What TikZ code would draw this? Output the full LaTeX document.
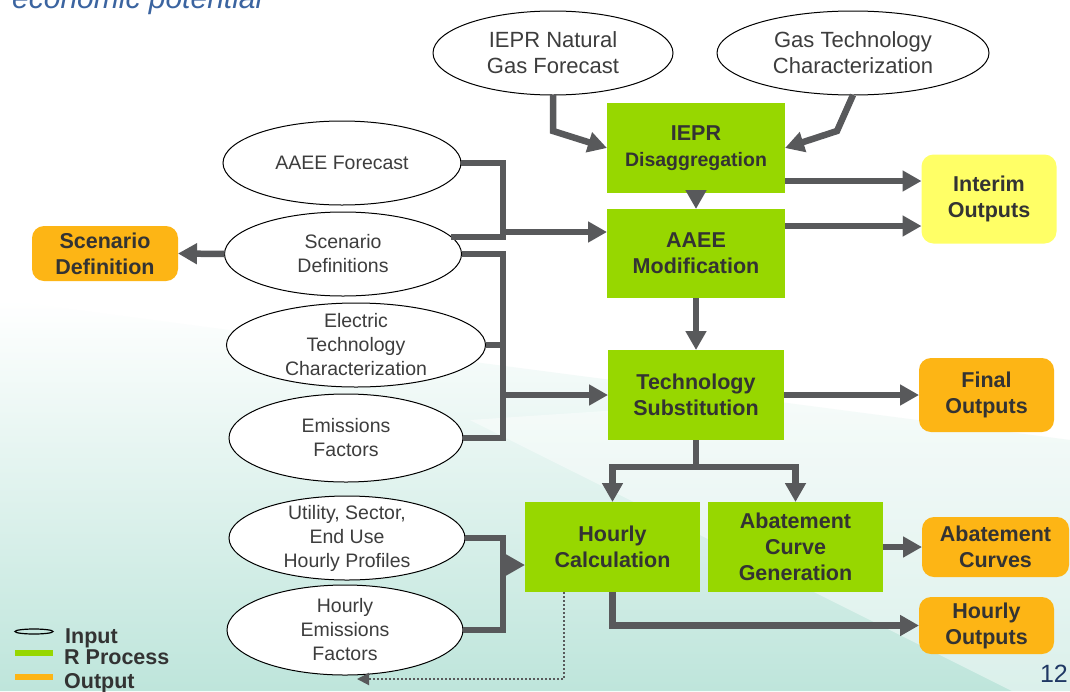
\documentclass[tikz,border=0pt]{standalone}
\usepackage{fontspec}
\setmainfont{Liberation Sans}
\usetikzlibrary{shapes.geometric,arrows.meta}

\definecolor{procgreen}{RGB}{151,215,0}
\definecolor{outorange}{RGB}{253,181,21}
\definecolor{interimyellow}{RGB}{255,255,102}
\definecolor{linkgray}{RGB}{88,89,91}
\definecolor{inktext}{RGB}{51,51,51}
\definecolor{bgteal}{RGB}{190,229,219}
\definecolor{titleblue}{RGB}{59,100,160}
\definecolor{pagenavy}{RGB}{31,56,100}

\tikzset{
  input/.style={draw=black, line width=1pt, fill=white, ellipse, inner sep=-8pt, outer sep=0pt, align=center, text=inktext!95!white, font=\fontsize{19.5}{24}\selectfont},
  process/.style={fill=procgreen, inner sep=0pt, outer sep=0pt, align=center, text=inktext, font=\bfseries\fontsize{21.5}{26}\selectfont},
  output/.style={fill=outorange, rounded corners=12pt, inner sep=0pt, outer sep=0pt, align=center, text=inktext, font=\bfseries\fontsize{21.5}{26}\selectfont},
  legendtext/.style={anchor=base west, inner sep=0pt, text=inktext, font=\bfseries\fontsize{21.5}{22}\selectfont},
  link/.style={draw=linkgray, line width=6.5pt},
  flow/.style={link, -{Triangle[length=19pt,width=20pt]}},
  dotflow/.style={draw=linkgray, line width=2pt, dotted, -{Triangle[length=12pt,width=12pt]}},
}

\begin{document}
\begin{tikzpicture}[x=1pt, y=-1pt]
\useasboundingbox (0,0) rectangle (1070,691);
\clip (0,0) rectangle (1070,691);

% background
\fill[white] (0,0) rectangle (1070,691);
\shade[top color=white, middle color=bgteal!40!white, bottom color=bgteal] (0,300) -- (1070,440) -- (1070,691) -- (0,691) -- cycle;
\fill[white, opacity=0.45] (470,420) -- (1070,380) -- (1070,720) -- cycle;

\node[anchor=base west, inner sep=0pt, text=titleblue, font=\itshape\fontsize{30}{32}\selectfont] (title) at (12,8) {economic potential};

% inputs
\node[input, font=\fontsize{22}{26}\selectfont, minimum width=240pt, minimum height=84pt] (ieprng) at (553,53) {IEPR Natural\\Gas Forecast};
\node[input, font=\fontsize{22}{26}\selectfont, minimum width=272pt, minimum height=84pt] (gastech) at (853,53) {Gas Technology\\Characterization};
\node[input, minimum width=238pt, minimum height=84pt] (aaeefc) at (342,163) {AAEE Forecast};
\node[input, minimum width=237pt, minimum height=84pt] (scen) at (343,254) {Scenario\\Definitions};
\node[input, minimum width=259pt, minimum height=84pt] (elec) at (356,345) {Electric\\Technology\\Characterization};
\node[input, minimum width=234pt, minimum height=88pt] (emis) at (346,438) {Emissions\\Factors};
\node[input, minimum width=236pt, minimum height=84pt] (util) at (347,538) {Utility, Sector,\\End Use\\Hourly Profiles};
\node[input, minimum width=236pt, minimum height=90pt] (hemis) at (345,630) {Hourly\\Emissions\\Factors};

% R processes
\node[process, minimum width=178pt, minimum height=90pt] (iepdis) at (696,148) {IEPR\\{\fontsize{19.5}{25}\selectfont Disaggregation}};
\node[process, minimum width=178pt, minimum height=89pt] (aaeemod) at (696,253.5) {AAEE\\Modification};
\node[process, minimum width=176pt, minimum height=90pt] (techsub) at (696,395) {Technology\\Substitution};
\node[process, minimum width=175pt, minimum height=90pt] (hcalc) at (612.5,547) {Hourly\\Calculation};
\node[process, minimum width=175pt, minimum height=90pt] (abate) at (795.5,547) {Abatement\\Curve\\Generation};

% outputs
\node[output, fill=interimyellow, minimum width=135pt, minimum height=89pt] (interim) at (989,199) {Interim\\Outputs};
\node[output, minimum width=135pt, minimum height=74pt] (final) at (986.5,395) {Final\\Outputs};
\node[output, minimum width=147pt, minimum height=60pt] (curves) at (995.5,547) {Abatement\\Curves};
\node[output, minimum width=135pt, minimum height=57pt] (hourly) at (986.5,625.5) {Hourly\\Outputs};
\node[output, minimum width=146pt, minimum height=55pt] (scendef) at (105,253.5) {Scenario\\Definition};

% junctions
\coordinate (jA) at (503,232);
\coordinate (jB) at (503,395);
\coordinate (jC) at (503,565);
\coordinate (jD) at (696,467);
\coordinate (dotA) at (564,679);
\coordinate (dotB) at (357,679);

% connectors
\draw[flow] (ieprng.south) -- ++(0,36) -- (iepdis.west);
\draw[flow] (gastech.south) -- ++(-16,36) -- (iepdis.east);
\draw[flow] (iepdis.east |- 0,181) -- (interim.west |- 0,181);
\draw[flow] (aaeemod.east |- 0,226) -- (interim.west |- 0,226);
\draw[flow] (iepdis.south) -- (aaeemod.north);
\draw[link] (aaeefc.east) -| (jA |- scen.9) -- (scen.9);
\draw[flow] (jA) -- (aaeemod.west |- jA);
\draw[flow] (scen.west) -- (scendef.east);
\draw[link] (scen.east) -| (jB |- emis.east) -- (emis.east);
\draw[link] (elec.east) -- (elec.east -| jB);
\draw[flow] (jB) -- (techsub.west);
\draw[flow] (aaeemod.south) -- (techsub.north);
\draw[flow] (techsub.east) -- (final.west);
\draw[link] (techsub.south) -- (jD);
\draw[flow] (jD) -| (hcalc.north);
\draw[flow] (jD) -| (abate.north);
\draw[flow] (abate.east) -- (curves.west);
\draw[flow] (hcalc.south) |- (hourly.west);
\draw[link] (util.east) -| (jC |- hemis.east) -- (hemis.east);
\draw[flow] (jC) -- (hcalc.west |- jC);
\draw[dotflow] (hcalc.south -| dotA) |- (dotB);

% legend
\draw[line width=1.2pt] (34,631.5) ellipse [x radius=19pt, y radius=2.5pt];
\draw[procgreen, line width=6pt] (15,653) -- (53,653);
\draw[outorange, line width=6pt] (15,677) -- (53,677);
\node[legendtext] (leginput) at (65,643) {Input};
\node[legendtext] (legproc) at (64,664) {R Process};
\node[legendtext] (legout) at (64,688) {Output};

\node[anchor=base east, inner sep=0pt, text=pagenavy, font=\fontsize{25}{27}\selectfont] (pagenum) at (1068,682) {12};
\end{tikzpicture}
\end{document}
